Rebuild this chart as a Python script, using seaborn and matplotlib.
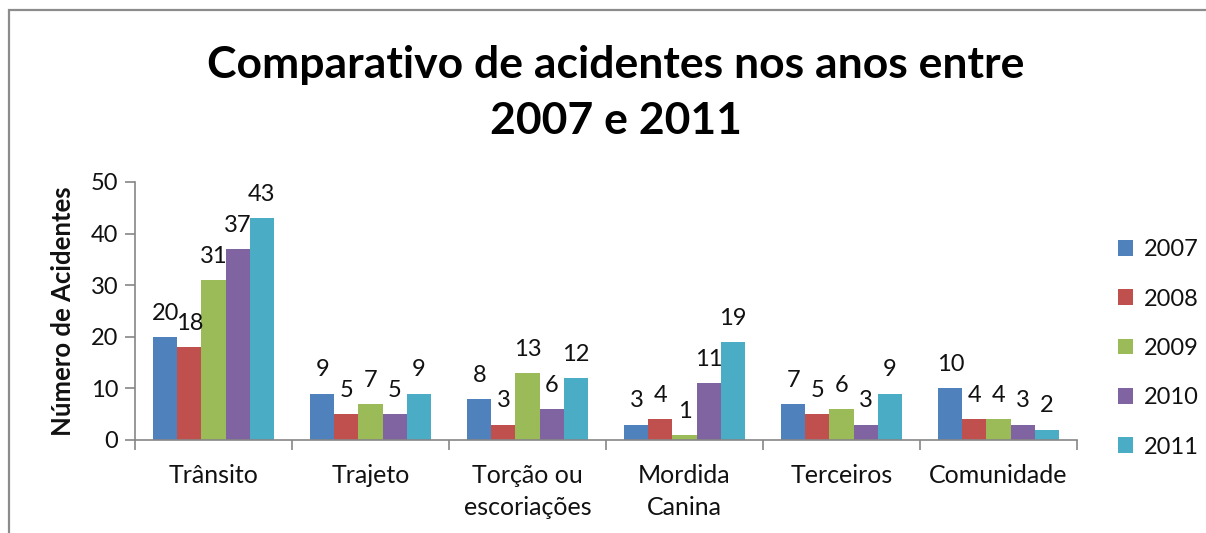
import matplotlib
matplotlib.use("Agg")
import matplotlib.pyplot as plt
import matplotlib.patches as mpatches
from matplotlib.ticker import FixedLocator, NullFormatter
import seaborn as sns
import pandas as pd

categories = ["Trânsito", "Trajeto", "Torção ou\nescoriações", "Mordida\nCanina", "Terceiros", "Comunidade"]
years = ["2007", "2008", "2009", "2010", "2011"]
v2007 = [20, 9, 8, 3, 7, 10]
v2008 = [18, 5, 3, 4, 5, 4]
v2009 = [31, 7, 13, 1, 6, 4]
v2010 = [37, 5, 6, 11, 3, 3]
v2011 = [43, 9, 12, 19, 9, 2]
colors = ["#4F81BD", "#C0504D", "#9BBB59", "#8064A2", "#4BACC6"]
title = "Comparativo de acidentes nos anos entre\n2007 e 2011"
ylabel = "Número de Acidentes"

series = [v2007, v2008, v2009, v2010, v2011]
rows = []
for y, vals in zip(years, series):
    for c, v in zip(categories, vals):
        rows.append({"cat": c, "year": y, "val": v})
df = pd.DataFrame(rows)

sns.set_theme(style="white")
FONT = ["Lato", "DejaVu Sans"]
plt.rcParams["font.family"] = FONT

fig = plt.figure(figsize=(12.06, 5.33), dpi=100)
ax = fig.add_axes([135/1206, 1-440/533, (1077-135)/1206, (440-182)/533])

sns.barplot(data=df, x="cat", y="val", hue="year", order=categories, hue_order=years,
            palette=colors, width=0.765, saturation=1, ax=ax, linewidth=0, errorbar=None)

for cont in ax.containers:
    ax.bar_label(cont, padding=9.5, fontsize=17, color="#111111")

ax.set_ylim(0, 50)
ax.set_xlim(-0.5, 5.5)
ax.set_yticks([0, 10, 20, 30, 40, 50])
ax.tick_params(axis="y", labelsize=17, length=7, width=1.2, color="#868686", left=True, pad=5)
ax.tick_params(axis="x", which="major", labelsize=18, length=0, pad=17)
ax.xaxis.set_minor_locator(FixedLocator([i - 0.5 for i in range(7)]))
ax.xaxis.set_minor_formatter(NullFormatter())
ax.tick_params(axis="x", which="minor", length=7, width=1.2, color="#868686", bottom=True)
for lab in ax.get_xticklabels():
    lab.set_linespacing(1.5)
for lab in ax.get_xticklabels() + ax.get_yticklabels():
    lab.set_color("#111111")

for s in ["top", "right"]:
    ax.spines[s].set_visible(False)
for s in ["left", "bottom"]:
    ax.spines[s].set_color("#868686")
    ax.spines[s].set_linewidth(1.2)

ax.set_xlabel("")
ax.set_ylabel(ylabel, fontsize=18.5, fontweight="bold", color="#111111", labelpad=11)

leg = ax.legend(loc="center left", bbox_to_anchor=(1.033, 0.355), frameon=False, fontsize=17,
                handlelength=0.65, handleheight=0.65, handletextpad=0.45, labelspacing=1.2,
                borderaxespad=0)
for t in leg.get_texts():
    t.set_color("#111111")

fig.text(0.5107, 1-93/533, title, ha="center", va="center", fontsize=32, fontweight="bold",
         linespacing=1.5, color="#000000")

border = mpatches.Rectangle((9/1206, -0.1), 1.2, 1.1 - 10.5/533, transform=fig.transFigure,
                            fill=False, edgecolor="#8c8c8c", linewidth=1.6, clip_on=False)
fig.patches.append(border)

fig.savefig("out.png", dpi=100, facecolor="white")
